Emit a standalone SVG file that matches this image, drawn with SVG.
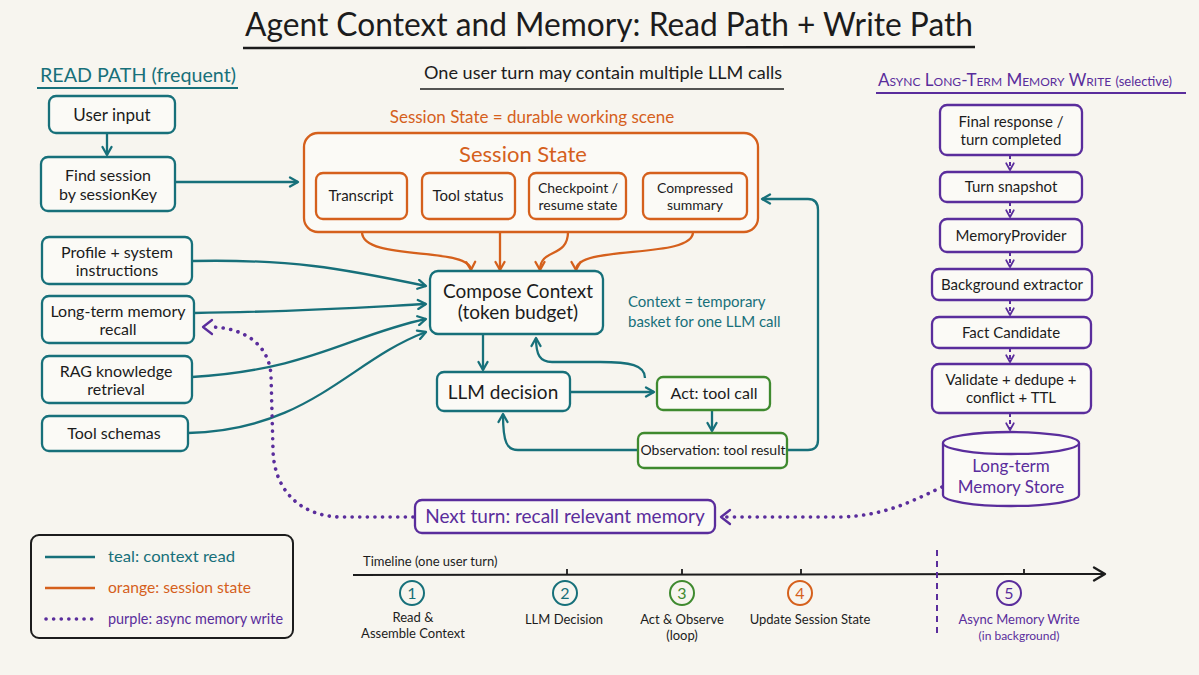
<svg xmlns="http://www.w3.org/2000/svg" width="1199" height="675" viewBox="0 0 1199 675">
<defs>
<style>
text{font-family:Lato,"Noto Sans","DejaVu Sans",sans-serif;fill:#1c1c1c}
.t{fill:#17707a}.o{fill:#d5601c}.p{fill:#5a2d9c}.g{fill:#3f8a2f}
.nt{stroke:#17707a;stroke-width:2.3;fill:#fbfaf6}
.no{stroke:#d5601c;stroke-width:2.3;fill:#fbfaf6}
.np{stroke:#5a2d9c;stroke-width:2.3;fill:#fbfaf6}
.ng{stroke:#3f8a2f;stroke-width:2.3;fill:#fbfaf6}
.ct{stroke:#17707a;stroke-width:2.3;fill:none}
.co{stroke:#d5601c;stroke-width:2.3;fill:none}
.cp{stroke:#5a2d9c;stroke-width:2.3;fill:none}
.dot{stroke:#5a2d9c;stroke-width:3.6;fill:none;stroke-dasharray:0.1 7.5;stroke-linecap:round}
.dash{stroke:#5a2d9c;stroke-width:2;fill:none;stroke-dasharray:4 3}
.m{text-anchor:middle}
.s17{font-size:17px}.s16{font-size:16px}.s15{font-size:15px}.s14{font-size:14px}.s19{font-size:19px}.s13{font-size:13px}
</style>
<marker id="aT" viewBox="0 0 12 12" refX="10" refY="6" markerWidth="12" markerHeight="12" orient="auto" markerUnits="userSpaceOnUse"><path d="M2,1.5 L10,6 L2,10.5" fill="none" stroke="#17707a" stroke-width="2.3" stroke-linecap="round" stroke-linejoin="round"/></marker>
<marker id="aO" viewBox="0 0 12 12" refX="10" refY="6" markerWidth="12" markerHeight="12" orient="auto" markerUnits="userSpaceOnUse"><path d="M2,1.5 L10,6 L2,10.5" fill="none" stroke="#d5601c" stroke-width="2.3" stroke-linecap="round" stroke-linejoin="round"/></marker>
<marker id="aPs" viewBox="0 0 12 12" refX="10" refY="6" markerWidth="10" markerHeight="10" orient="auto" markerUnits="userSpaceOnUse"><path d="M2,1.5 L10,6 L2,10.5" fill="none" stroke="#5a2d9c" stroke-width="2.2" stroke-linecap="round" stroke-linejoin="round"/></marker>
<marker id="aK" viewBox="0 0 16 16" refX="14" refY="8" markerWidth="16" markerHeight="16" orient="auto" markerUnits="userSpaceOnUse"><path d="M3,1.5 L14,8 L3,14.5" fill="none" stroke="#1c1c1c" stroke-width="2.3" stroke-linecap="round" stroke-linejoin="round"/></marker>
</defs>
<rect width="1199" height="675" fill="#f7f5ef"/>

<g id="title">
<text x="609" y="36" class="m" font-size="33" textLength="728" lengthAdjust="spacingAndGlyphs">Agent Context and Memory: Read Path + Write Path</text>
<path d="M243,48 L975,47" stroke="#1c1c1c" stroke-width="2.5"/>
<text x="603" y="79" class="m s17" textLength="358" lengthAdjust="spacingAndGlyphs">One user turn may contain multiple LLM calls</text>
<path d="M420,89 L784,89" stroke="#1c1c1c" stroke-width="1.6"/>
</g>

<g id="read-path-header">
<text x="40" y="82" class="t" font-size="20" textLength="196" lengthAdjust="spacingAndGlyphs">READ PATH (frequent)</text>
<path d="M37,88 L238,88" stroke="#17707a" stroke-width="2"/>
</g>

<g id="write-path-header">
<text x="878" y="86" class="p" font-size="17" style="font-variant:small-caps">Async Long-Term Memory Write <tspan font-size="13" style="font-variant:normal">(selective)</tspan></text>
<path d="M876,93 L1186,93" stroke="#5a2d9c" stroke-width="2"/>
</g>

<g id="connectors">
<path class="ct" d="M107,133 L107,155" marker-end="url(#aT)"/>
<path class="ct" d="M175,182 L298,182" marker-end="url(#aT)"/>
<path class="ct" d="M192,261 C290,259 340,268 426,286" marker-end="url(#aT)"/>
<path class="ct" d="M194,313 C290,312 350,308 426,304" marker-end="url(#aT)"/>
<path class="ct" d="M192,377 C310,370 350,335 426,319" marker-end="url(#aT)"/>
<path class="ct" d="M188,433 C310,430 350,360 426,332" marker-end="url(#aT)"/>
<path class="co" d="M362,232 C362,262 470,246 471,270" marker-end="url(#aO)"/>
<path class="co" d="M500,232 L500,270" marker-end="url(#aO)"/>
<path class="co" d="M568,232 C568,258 540,248 540,270" marker-end="url(#aO)"/>
<path class="co" d="M693,232 C693,260 576,244 576,270" marker-end="url(#aO)"/>
<path class="ct" d="M483,334 L483,370" marker-end="url(#aT)"/>
<path class="ct" d="M570,392 L654,392" marker-end="url(#aT)"/>
<path class="ct" d="M645,378 C645,365 630,362 600,362 L552,362 C540,362 536,355 536,338" marker-end="url(#aT)"/>
<path class="ct" d="M712,410 L712,431" marker-end="url(#aT)"/>
<path class="ct" d="M638,450 L518,450 C507,450 503,443 503,414" marker-end="url(#aT)"/>
<path class="ct" d="M787,450 L808,450 Q818,450 818,440 L818,210 Q818,199 808,199 L762,199" marker-end="url(#aT)"/>
<path class="dash" d="M1010,155 L1010,170" marker-end="url(#aPs)"/>
<path class="dash" d="M1010,202 L1010,217" marker-end="url(#aPs)"/>
<path class="dash" d="M1010,252 L1010,267" marker-end="url(#aPs)"/>
<path class="dash" d="M1010,300 L1010,315" marker-end="url(#aPs)"/>
<path class="dash" d="M1010,348 L1010,362" marker-end="url(#aPs)"/>
<path class="dash" d="M1010,413 L1010,430" marker-end="url(#aPs)"/>
<path class="dot" d="M942,487 C905,505 880,516 840,517 L722,517"/>
<path class="cp" d="M730,510 L721,517 L730,524" stroke-width="2.5" stroke-linejoin="round" stroke-linecap="round"/>
<path class="dot" d="M413,517 L340,517 C300,516 274,490 273,450 L271,375 C269,345 245,328 212,327"/>
<path class="cp" d="M212,320 L203,327 L212,334" stroke-width="2.5" stroke-linejoin="round" stroke-linecap="round"/>
</g>

<g id="user-input"><rect class="nt" x="49" y="96" width="126" height="37" rx="7"/><text x="112" y="121" class="m s17">User input</text></g>
<g id="find-session"><rect class="nt" x="41" y="157" width="134" height="54" rx="7"/><text x="108" y="181" class="m s16">Find session</text><text x="108" y="200" class="m s16">by sessionKey</text></g>
<g id="profile"><rect class="nt" x="42" y="237" width="150" height="47" rx="7"/><text x="117" y="258" class="m s16">Profile + system</text><text x="117" y="276" class="m s16">instructions</text></g>
<g id="ltm-recall"><rect class="nt" x="42" y="296" width="152" height="47" rx="7"/><text x="118" y="317" class="m s16">Long-term memory</text><text x="118" y="335" class="m s16">recall</text></g>
<g id="rag"><rect class="nt" x="42" y="356" width="150" height="47" rx="7"/><text x="116" y="377" class="m s16">RAG knowledge</text><text x="116" y="395" class="m s16">retrieval</text></g>
<g id="tool-schemas"><rect class="nt" x="42" y="416" width="146" height="35" rx="7"/><text x="114" y="439" class="m s16">Tool schemas</text></g>

<g id="session-state">
<text x="532" y="123" class="m o s17">Session State = durable working scene</text>
<rect class="no" x="304" y="133" width="454" height="99" rx="14"/>
<text x="523" y="162" class="m o" font-size="22">Session State</text>
</g>
<g id="transcript"><rect class="no" x="316" y="173" width="91" height="46" rx="7"/><text x="361" y="201" class="m s15">Transcript</text></g>
<g id="tool-status"><rect class="no" x="422" y="173" width="93" height="46" rx="7"/><text x="468" y="201" class="m s15">Tool status</text></g>
<g id="checkpoint"><rect class="no" x="529" y="173" width="97" height="46" rx="7"/><text x="578" y="193" class="m s14">Checkpoint /</text><text x="578" y="210" class="m s14">resume state</text></g>
<g id="compressed"><rect class="no" x="643" y="173" width="104" height="46" rx="7"/><text x="695" y="193" class="m s14">Compressed</text><text x="695" y="210" class="m s14">summary</text></g>

<g id="compose-context"><rect class="nt" x="430" y="271" width="173" height="63" rx="8"/><text x="518" y="298" class="m s19">Compose Context</text><text x="518" y="319" class="m s19">(token budget)</text></g>
<g id="context-note"><text x="628" y="307" class="t s15">Context = temporary</text><text x="628" y="327" class="t s15">basket for one LLM call</text></g>
<g id="llm-decision"><rect class="nt" x="437" y="372" width="133" height="39" rx="7"/><text x="503" y="399" class="m s19">LLM decision</text></g>
<g id="act-tool-call"><rect class="ng" x="657" y="377" width="113" height="33" rx="6"/><text x="714" y="399" class="m s16">Act: tool call</text></g>
<g id="observation"><rect class="ng" x="638" y="433" width="149" height="35" rx="6"/><text x="713" y="455" class="m s14">Observation: tool result</text></g>

<g id="final-response"><rect class="np" x="940" y="105" width="142" height="50" rx="7"/><text x="1011" y="127" class="m s15">Final response /</text><text x="1011" y="145" class="m s15">turn completed</text></g>
<g id="turn-snapshot"><rect class="np" x="940" y="172" width="142" height="30" rx="7"/><text x="1011" y="192" class="m s15">Turn snapshot</text></g>
<g id="memory-provider"><rect class="np" x="940" y="219" width="142" height="33" rx="7"/><text x="1011" y="241" class="m s15">MemoryProvider</text></g>
<g id="background-extractor"><rect class="np" x="932" y="269" width="160" height="31" rx="7"/><text x="1012" y="290" class="m s15">Background extractor</text></g>
<g id="fact-candidate"><rect class="np" x="932" y="317" width="159" height="31" rx="7"/><text x="1011" y="338" class="m s15">Fact Candidate</text></g>
<g id="validate"><rect class="np" x="932" y="364" width="159" height="49" rx="7"/><text x="1011" y="385" class="m s15">Validate + dedupe +</text><text x="1011" y="403" class="m s15">conflict + TTL</text></g>
<g id="ltm-store">
<path class="np" d="M943,443 L943,495 A68,11 0 0 0 1079,495 L1079,443"/>
<ellipse class="np" cx="1011" cy="443" rx="68" ry="11"/>
<text x="1011" y="472" class="m p s17">Long-term</text><text x="1011" y="493" class="m p s17">Memory Store</text>
</g>

<g id="next-turn"><rect class="np" x="415" y="500" width="300" height="33" rx="7"/><text x="565" y="523" class="m p s19">Next turn: recall relevant memory</text></g>

<g id="legend">
<rect x="31" y="535" width="262" height="103" rx="8" fill="none" stroke="#1c1c1c" stroke-width="2"/>
<path d="M45,557 L95,557" class="ct" stroke-width="3"/>
<text x="108" y="562" class="t s16" textLength="127" lengthAdjust="spacingAndGlyphs">teal: context read</text>
<path d="M45,588 L95,588" class="co" stroke-width="3"/>
<text x="108" y="593" class="o s16" textLength="143" lengthAdjust="spacingAndGlyphs">orange: session state</text>
<path d="M46,619 L95,619" class="dot" stroke-dasharray="0.1 7"/>
<text x="108" y="624" class="p s16" textLength="175" lengthAdjust="spacingAndGlyphs">purple: async memory write</text>
</g>

<g id="timeline">
<text x="363" y="566" class="s13">Timeline (one user turn)</text>
<path d="M353,575 L1105,574" stroke="#1c1c1c" stroke-width="2" fill="none" marker-end="url(#aK)"/>
<path d="M567,569 L567,575 M682,569 L682,575 M801,569 L801,575 M1024,569 L1024,575" stroke="#1c1c1c" stroke-width="1.8"/>
<path d="M937,550 L937,638" stroke="#5a2d9c" stroke-width="2" stroke-dasharray="6 5"/>
<circle cx="412" cy="593" r="12" fill="none" stroke="#17707a" stroke-width="2"/><text x="412" y="599" class="m t s16">1</text>
<circle cx="565" cy="593" r="12" fill="none" stroke="#17707a" stroke-width="2"/><text x="565" y="599" class="m t s16">2</text>
<circle cx="682" cy="593" r="12" fill="none" stroke="#3f8a2f" stroke-width="2"/><text x="682" y="599" class="m g s16">3</text>
<circle cx="800" cy="593" r="12" fill="none" stroke="#d5601c" stroke-width="2"/><text x="800" y="599" class="m o s16">4</text>
<circle cx="1009" cy="593" r="12" fill="none" stroke="#5a2d9c" stroke-width="2"/><text x="1009" y="599" class="m p s16">5</text>
<text x="413" y="622" class="m s13">Read &amp;</text><text x="413" y="638" class="m s13">Assemble Context</text>
<text x="564" y="624" class="m s13">LLM Decision</text>
<text x="682" y="624" class="m s13">Act &amp; Observe</text><text x="682" y="640" class="m s13">(loop)</text>
<text x="810" y="624" class="m s13">Update Session State</text>
<text x="1019" y="624" class="m p s13">Async Memory Write</text><text x="1019" y="640" class="m p" font-size="12">(in background)</text>
</g>
</svg>
